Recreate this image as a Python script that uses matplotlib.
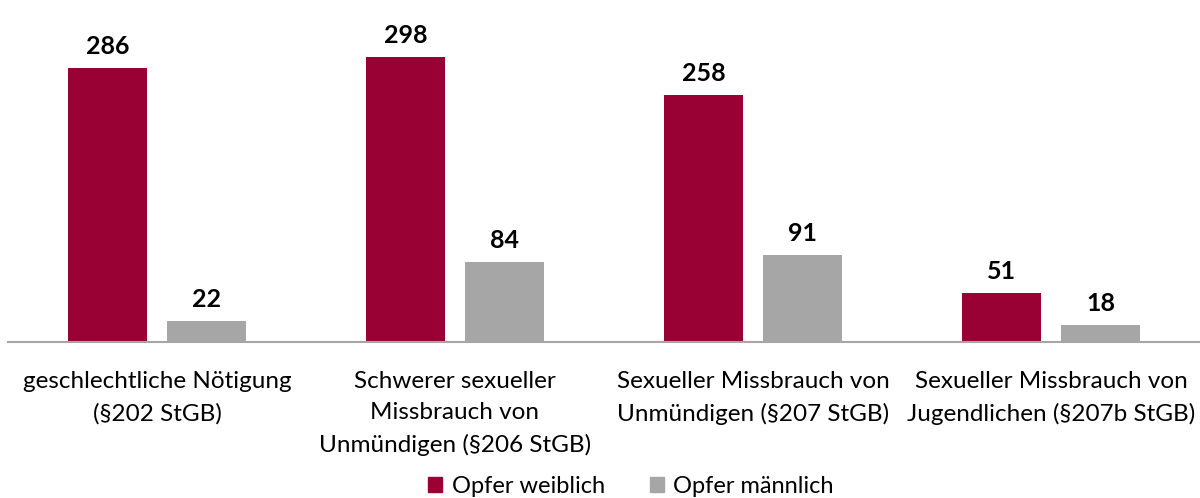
import matplotlib
matplotlib.use("Agg")
import matplotlib.pyplot as plt
import numpy as np
from matplotlib.patches import Patch

categories = ["geschlechtliche Nötigung\n(§202 StGB)",
              "Schwerer sexueller\nMissbrauch von\nUnmündigen (§206 StGB)",
              "Sexueller Missbrauch von\nUnmündigen (§207 StGB)",
              "Sexueller Missbrauch von\nJugendlichen (§207b StGB)"]
weiblich = [286, 298, 258, 51]
maennlich = [22, 84, 91, 18]
series_names = ["Opfer weiblich", "Opfer männlich"]

RED = "#990033"
GRAY = "#A6A6A6"
FONT = "Lato"
plt.rcParams['font.family'] = [FONT, 'DejaVu Sans']

fig = plt.figure(figsize=(12, 4.98), dpi=100)
ax = fig.add_axes([8/1200, 156/498, 1192/1200, 342/498])
x = np.arange(len(categories))
w = 0.265
off = 0.166
b1 = ax.bar(x - off, weiblich, w, color=RED)
b2 = ax.bar(x + off, maennlich, w, color=GRAY)
for bars, vals in ((b1, weiblich), (b2, maennlich)):
    for r, v in zip(bars, vals):
        ax.annotate(str(v), (r.get_x() + r.get_width()/2, r.get_height()),
                    xytext=(0, 7), textcoords="offset points",
                    ha="center", va="bottom", fontsize=18, fontweight="bold", color="black")
ax.set_xlim(-0.5, len(categories) - 0.5)
ax.set_ylim(0, 357)
for s in ["top", "right", "left"]:
    ax.spines[s].set_visible(False)
ax.spines["bottom"].set_color("#A6A6A6")
ax.spines["bottom"].set_linewidth(1.5)
ax.set_yticks([])
ax.set_xticks(x)
ax.set_xticklabels(categories, fontsize=17.5, linespacing=1.6)
ax.tick_params(axis="x", length=0, pad=21)

handles = [Patch(color=RED), Patch(color=GRAY)]
fig.legend(handles, series_names, loc="center", bbox_to_anchor=(631/1200, 1 - 486/498),
           ncol=2, frameon=False, fontsize=17, handlelength=0.6, handleheight=0.6,
           handletextpad=0.4, columnspacing=1.9)
fig.savefig("out.png", dpi=100)
